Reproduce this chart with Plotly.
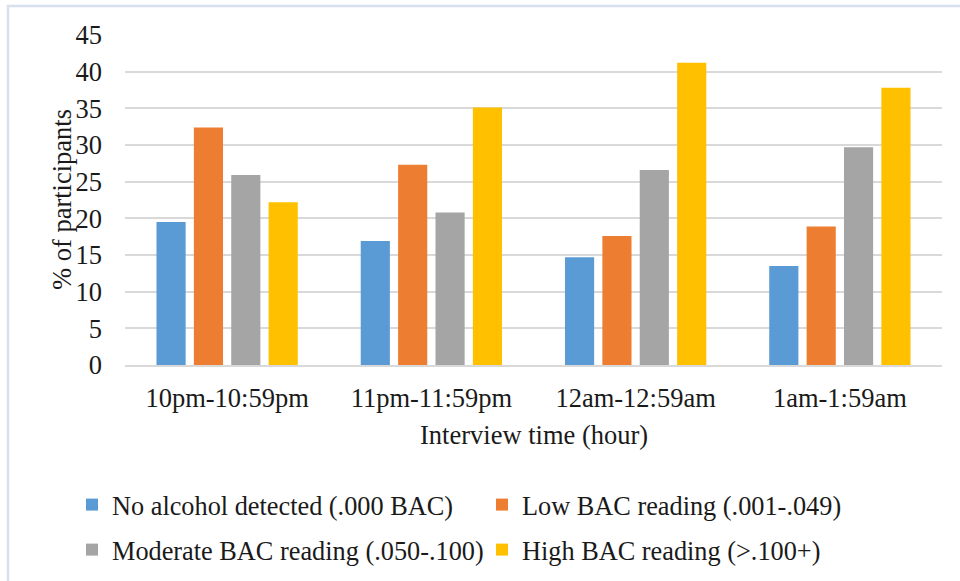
import plotly.graph_objects as go

# Interview time slots on the x axis
categories = ["10pm-10:59pm", "11pm-11:59pm", "12am-12:59am", "1am-1:59am"]

# Share of participants (%) by BAC reading group
no_alcohol = [19.5, 16.9, 14.7, 13.5]
low_bac = [32.4, 27.3, 17.6, 18.9]
moderate_bac = [25.9, 20.8, 26.6, 29.7]
high_bac = [22.2, 35.1, 41.2, 37.8]

series_names = [
    "No alcohol detected (.000 BAC)",
    "Low BAC reading (.001-.049)",
    "Moderate BAC reading (.050-.100)",
    "High BAC reading (>.100+)",
]
series_values = [no_alcohol, low_bac, moderate_bac, high_bac]
series_colors = ["#5B9BD5", "#ED7D31", "#A5A5A5", "#FFC000"]

y_ticks = list(range(0, 46, 5))

W, H = 960, 581
ML, MR, MT, MB = 125, 18, 35, 216

FONT = "Liberation Serif, Times New Roman, serif"
TXT = "#1a1a1a"
FS = 26.5

plot_w = W - ML - MR
plot_h = H - MT - MB


def px_x(px):
    """Pixel column -> paper x."""
    return (px - ML) / plot_w


def px_y(py):
    """Pixel row (from top) -> paper y."""
    return ((H - MB) - py) / plot_h


# Each series gets its own legend box so the 2x2 key can be placed freely
legend_ids = ["legend", "legend2", "legend3", "legend4"]
legend_pos = [(72, 505), (482, 505), (72, 550), (482, 550)]

fig = go.Figure()
for name, vals, color, lg in zip(series_names, series_values, series_colors, legend_ids):
    fig.add_trace(
        go.Bar(
            x=categories,
            y=vals,
            name=name,
            marker=dict(color=color, line=dict(width=0)),
            legend=lg,
        )
    )

# Light frame around the chart area
fig.add_shape(
    type="rect",
    xref="paper", yref="paper",
    x0=px_x(8), x1=px_x(975),
    y0=px_y(600), y1=px_y(6),
    line=dict(color="#D6E0EF", width=2.5),
    fillcolor="rgba(0,0,0,0)",
    layer="below",
)

legend_layout = {}
for lg, (lx, ly) in zip(legend_ids, legend_pos):
    legend_layout[lg] = dict(
        orientation="h",
        xref="container", yref="container",
        x=lx / W, y=1 - ly / H,
        xanchor="left", yanchor="middle",
        font=dict(family=FONT, size=26.3, color=TXT),
        itemwidth=30,
        bgcolor="rgba(0,0,0,0)",
    )

fig.update_layout(
    width=W, height=H,
    margin=dict(l=ML, r=MR, t=MT, b=MB, pad=0),
    paper_bgcolor="white",
    plot_bgcolor="white",
    barmode="group",
    bargap=0.268,
    bargroupgap=0.22,
    font=dict(family=FONT, size=FS, color=TXT),
    showlegend=True,
    xaxis=dict(
        showgrid=False,
        showline=True,
        linecolor="#D9D9D9",
        linewidth=1.5,
        ticks="",
        ticklabelstandoff=8,
        tickfont=dict(family=FONT, size=FS, color=TXT),
    ),
    yaxis=dict(
        range=[0, 45],
        tickvals=y_ticks,
        showgrid=True,
        gridcolor="#D9D9D9",
        gridwidth=1.5,
        zeroline=False,
        showline=False,
        ticks="",
        ticklabelstandoff=22,
        tickfont=dict(family=FONT, size=FS, color=TXT),
    ),
    annotations=[
        dict(
            text="Interview time (hour)",
            xref="paper", yref="paper",
            x=0.5, y=px_y(435),
            xanchor="center", yanchor="middle",
            showarrow=False,
            font=dict(family=FONT, size=FS, color=TXT),
        ),
        dict(
            text="% of participants",
            xref="paper", yref="paper",
            x=px_x(62), y=0.5,
            xanchor="center", yanchor="middle",
            textangle=-90,
            showarrow=False,
            font=dict(family=FONT, size=FS, color=TXT),
        ),
    ],
    **legend_layout,
)

fig.write_html("out.html")
